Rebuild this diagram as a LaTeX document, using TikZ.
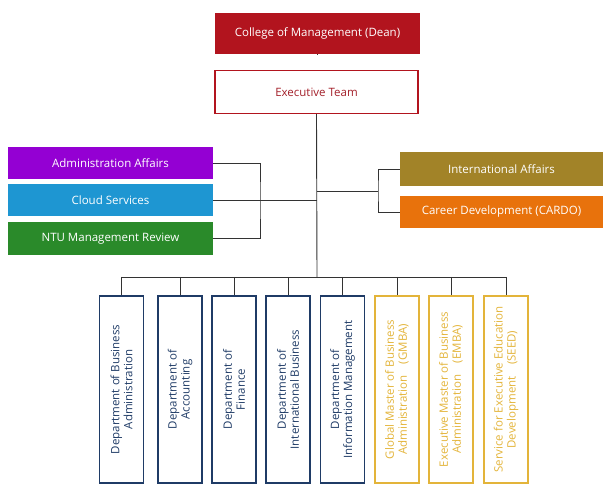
\documentclass[tikz,border=0pt]{standalone}
\usepackage{fontspec}
\setmainfont{Open Sans}
\usepackage{xcolor}
\usetikzlibrary{positioning,calc}

\definecolor{deanred}{HTML}{B2141E}
\definecolor{execred}{HTML}{A3202A}
\definecolor{adminpurple}{HTML}{9400D3}
\definecolor{cloudblue}{HTML}{1E96D2}
\definecolor{reviewgreen}{HTML}{2A8A2A}
\definecolor{intlolive}{HTML}{A28328}
\definecolor{cardoorange}{HTML}{E8720C}
\definecolor{deptnavy}{HTML}{1F3B66}
\definecolor{proggold}{HTML}{E3B43A}
\definecolor{linkgray}{HTML}{333333}

\tikzset{
    unitbox/.style={inner sep=0pt, font=\fontsize{11.5}{13}\selectfont},
    sidebox/.style={unitbox, fill=#1, text=white, minimum width=205pt, minimum height=32pt},
    deptbox/.style={draw=#1, text=#1, line width=1.8pt, rotate=90, align=center,
        minimum width=187pt, minimum height=44pt, inner sep=0pt,
        font=\fontsize{11.5}{13}\selectfont},
    link/.style={draw=linkgray, line width=0.9pt},
}

\begin{document}
\begin{tikzpicture}[x=1pt,y=-1pt]
    \useasboundingbox (0,0) rectangle (603,486);

    % top of the chart
    \node[unitbox, fill=deanred, text=white, minimum width=205pt, minimum height=41pt]
        (dean) at (317.5,33.5) {College of Management (Dean)};
    \node[unitbox, draw=deanred, line width=1.5pt, text=execred, minimum width=203pt, minimum height=43pt]
        (exec) at (316.5,92) {Executive Team};

    % staff units
    \node[sidebox=adminpurple] (admin) at (110.5,163) {Administration Affairs};
    \node[sidebox=cloudblue] (cloud) at (110.5,200) {Cloud Services};
    \node[sidebox=reviewgreen, minimum height=33pt] (review) at (110.5,238.5) {NTU Management Review};
    \node[sidebox=intlolive, minimum width=203pt, minimum height=34pt] (intl) at (501.5,169) {International Affairs};
    \node[sidebox=cardoorange, minimum width=203pt] (cardo) at (501.5,212) {Career Development (CARDO)};

    % departments and programmes (rotated: .east is the top side)
    \node[deptbox=deptnavy] (d1) at (121.5,389.5) {Department of Business\\Administration};
    \node[deptbox=deptnavy] (d2) at (180,389.5) {Department of\\Accounting};
    \node[deptbox=deptnavy] (d3) at (234,389.5) {Department of\\Finance};
    \node[deptbox=deptnavy] (d4) at (288,389.5) {Department of\\International Business};
    \node[deptbox=deptnavy] (d5) at (342.5,389.5) {Department of\\Information Management};
    \node[deptbox=proggold] (d6) at (397,389.5) {Global Master of Business\\Administration\quad(GMBA)};
    \node[deptbox=proggold] (d7) at (451,389.5) {Executive Master of Business\\Administration\quad(EMBA)};
    \node[deptbox=proggold] (d8) at (506,389.5) {Service for Executive Education\\Development\quad(SEED)};

    \coordinate (lbrk) at (260,200);
    \coordinate (rbrk) at (378,191);
    \coordinate (bus) at (317,277);

    \draw[link] (dean.south) -- (exec.south |- dean.south);
    \draw[link] (exec.south) -- (bus);
    \draw[link] (admin.east) -| (lbrk) |- (review.east);
    \draw[link] (cloud.east) -- (cloud.east -| bus);
    \draw[link] (intl.west) -| (rbrk) |- (cardo.west);
    \draw[link] (rbrk) -- (rbrk -| bus);
    \draw[link] (bus -| d1.east) -- (bus -| d8.east);
    \foreach \i in {1,...,8}
        \draw[link] (bus -| d\i.east) -- (d\i.east);
\end{tikzpicture}
\end{document}
